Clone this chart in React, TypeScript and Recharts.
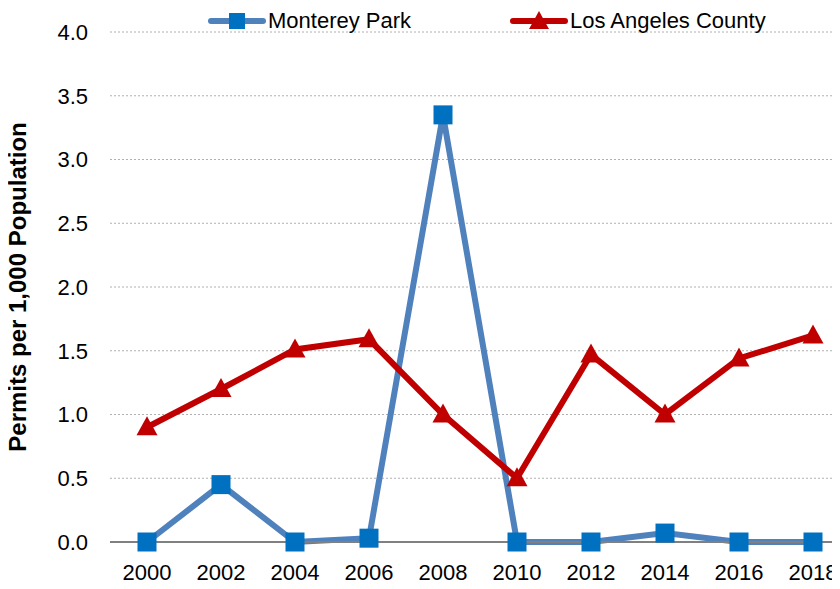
import { CartesianGrid, Legend, Line, LineChart, XAxis, YAxis } from 'recharts';

const years = ['2000', '2002', '2004', '2006', '2008', '2010', '2012', '2014', '2016', '2018'];
const montereyPark = [0, 0.45, 0, 0.03, 3.35, 0, 0, 0.07, 0, 0];
const laCounty = [0.9, 1.2, 1.51, 1.59, 1.0, 0.5, 1.47, 1.0, 1.44, 1.62];
const yTicks = [0, 0.5, 1, 1.5, 2, 2.5, 3, 3.5, 4];

const chartData = years.map((year, i) => ({
  year,
  mp: montereyPark[i],
  la: laCounty[i],
}));

const FONT = '"Liberation Sans Narrow", "Arial Narrow", "Liberation Sans", Arial, sans-serif';
const BLUE_LINE = '#4f81bd';
const BLUE_MARK = '#0070c0';
const RED = '#c00000';

const SquareDot = (props: any) => {
  const { cx, cy } = props;
  if (cx == null || cy == null) return null;
  return <rect x={cx - 9.5} y={cy - 9.5} width={19} height={19} fill={BLUE_MARK} />;
};

const TriangleDot = (props: any) => {
  const { cx, cy } = props;
  if (cx == null || cy == null) return null;
  return (
    <polygon
      points={`${cx},${cy - 11} ${cx + 10.5},${cy + 8} ${cx - 10.5},${cy + 8}`}
      fill={RED}
    />
  );
};

// zero-height box so the legend does not push the plot down
const LegendContent = () => (
  <div style={{ position: 'relative', height: 0, fontFamily: FONT, fontSize: 22, color: '#000' }}>
    <svg width={60} height={22} style={{ position: 'absolute', left: 207, top: 10 }}>
      <line x1={4} y1={11} x2={56} y2={11} stroke={BLUE_LINE} strokeWidth={6} strokeLinecap="round" />
      <rect x={22} y={3} width={16} height={16} fill={BLUE_MARK} />
    </svg>
    <span style={{ position: 'absolute', left: 268, top: 8, whiteSpace: 'nowrap' }}>Monterey Park</span>
    <svg width={60} height={22} style={{ position: 'absolute', left: 509, top: 10 }}>
      <line x1={4} y1={11} x2={56} y2={11} stroke={RED} strokeWidth={6} strokeLinecap="round" />
      <polygon points="30,1 40,19 20,19" fill={RED} />
    </svg>
    <span style={{ position: 'absolute', left: 570, top: 8, whiteSpace: 'nowrap' }}>Los Angeles County</span>
  </div>
);

export default function App() {
  return (
    <div style={{ width: 840, height: 589, overflow: 'hidden', margin: -8, background: '#fff' }}>
      <LineChart
        width={850}
        height={589}
        data={chartData}
        margin={{ top: 32, right: 0, bottom: 5, left: 0 }}
      >
        <CartesianGrid vertical={false} stroke="#b0b0b0" strokeDasharray="2 2" />
        <XAxis
          dataKey="year"
          height={42}
          padding={{ left: 37, right: 37 }}
          tickLine={false}
          axisLine={{ stroke: '#808080', strokeWidth: 2 }}
          tick={{ fill: '#000', fontSize: 22, fontFamily: FONT }}
          tickMargin={16}
          interval={0}
        />
        <YAxis
          width={110}
          domain={[0, 4]}
          ticks={yTicks}
          tickFormatter={(v: number) => v.toFixed(1)}
          axisLine={false}
          tickLine={false}
          tick={{ fill: '#000', fontSize: 22, fontFamily: FONT }}
          tickMargin={16}
          label={{
            value: 'Permits per 1,000 Population',
            angle: -90,
            position: 'insideLeft',
            offset: 17,
            style: { textAnchor: 'middle', fontFamily: FONT, fontSize: 24, fontWeight: 'bold', fill: '#000' },
          }}
        />
        <Legend
          verticalAlign="top"
          content={<LegendContent />}
          wrapperStyle={{ top: 0, left: 0, width: 840 }}
        />
        <Line
          dataKey="mp"
          name="Monterey Park"
          stroke={BLUE_LINE}
          strokeWidth={6}
          dot={<SquareDot />}
          activeDot={false}
          isAnimationActive={false}
        />
        <Line
          dataKey="la"
          name="Los Angeles County"
          stroke={RED}
          strokeWidth={6}
          dot={<TriangleDot />}
          activeDot={false}
          isAnimationActive={false}
        />
      </LineChart>
    </div>
  );
}
